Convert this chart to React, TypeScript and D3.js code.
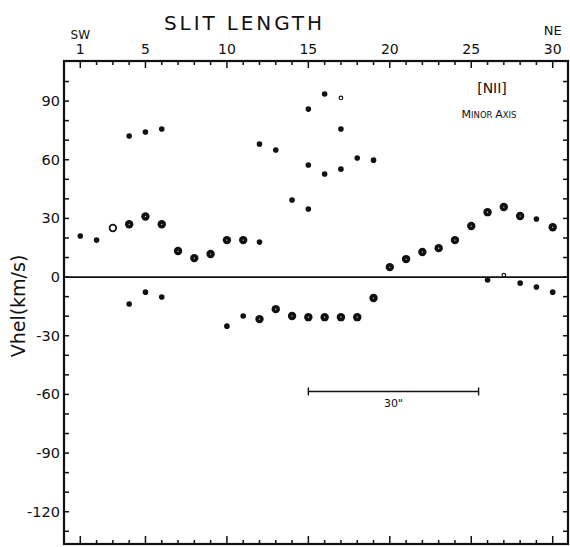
import React from "react";
import * as d3 from "d3";

// slit positions (1..30) and heliocentric velocities (km/s)
const strongX = [4, 5, 6, 7, 8, 9, 10, 11, 12, 13, 14, 15, 16, 17, 18, 19, 20, 21, 22, 23, 24, 25, 26, 27, 28, 30];
const strongV = [27, 31, 27, 13.3, 9.7, 11.8, 18.9, 18.9, -21.5, -16.4, -19.9, -20.5, -20.5, -20.5, -20.5, -10.7, 5.1, 9.2, 12.8, 14.8, 18.9, 26.1, 33.2, 35.8, 31.2, 25.5];

const weakX = [1, 2, 4, 4, 5, 5, 6, 6, 10, 11, 12, 12, 13, 14, 15, 15, 15, 16, 16, 17, 17, 18, 19, 26, 28, 29, 29, 30];
const weakV = [21, 18.9, 72.1, -13.8, 74.2, -7.7, 75.7, -10.2, -25.1, -19.9, 17.9, 68, 65, 39.4, 85.9, 57.3, 34.8, 93.6, 52.7, 75.7, 55.2, 60.9, 59.8, -1.5, -3.1, -5.1, 29.7, -7.7];

const openX = [3];
const openV = [25.1];
const faintX = [27, 17];
const faintV = [1, 91.6];

const topTickLabels = [1, 5, 10, 15, 20, 25, 30];
const yTickLabels = [90, 60, 30, 0, -30, -60, -90, -120];
const scaleBarX = [15, 25.45];
const scaleBarV = -58.5;
const scaleBarLabel = '30"';

const FONT = "'DejaVu Sans', 'Liberation Sans', sans-serif";

export default function App() {
  const W = 570, H = 547;
  const L = 64, R = 568, T = 61, B = 544;
  const x = d3.scaleLinear().domain([0, 31]).range([L, R + 1]);
  const y = d3.scaleLinear().domain([-136.5, 110.5]).range([B, T]);

  const xMinor = d3.range(1, 31);
  const yMinor = d3.range(-130, 101, 10);
  const isMajorX = (v: number) => v === 1 || v % 5 === 0;

  return (
    <svg width={W} height={H} style={{ position: "absolute", left: 0, top: 0, background: "#fff" }}>
      <rect x={0} y={0} width={W} height={H} fill="#fff" />
      {/* title */}
      <text x={243} y={30} fontFamily={FONT} fontSize={20} textAnchor="middle" textLength={158} lengthAdjust="spacing" fill="#111">
        SLIT  LENGTH
      </text>
      <text x={x(1)} y={39} fontFamily={FONT} fontSize={12} textAnchor="middle" fill="#111">SW</text>
      <text x={x(30)} y={35} fontFamily={FONT} fontSize={13} textAnchor="middle" fill="#111">NE</text>
      {topTickLabels.map((t) => (
        <text key={"tl" + t} x={x(t)} y={54} fontFamily={FONT} fontSize={14} textAnchor="middle" fill="#111">
          {t}
        </text>
      ))}

      {/* frame */}
      <rect x={L} y={T} width={R - L} height={B - T} fill="none" stroke="#111" strokeWidth={2.2} />

      {/* top & bottom ticks */}
      {xMinor.map((t) => (
        <g key={"xt" + t} stroke="#111" strokeWidth={1.5}>
          <line x1={x(t)} x2={x(t)} y1={T} y2={T + (isMajorX(t) ? 7 : 4)} />
          <line x1={x(t)} x2={x(t)} y1={B} y2={B - (isMajorX(t) ? 8 : 4)} />
        </g>
      ))}
      {/* left & right ticks */}
      {yMinor.map((v) => (
        <g key={"yt" + v} stroke="#111" strokeWidth={1.5}>
          <line x1={L} x2={L + 5} y1={y(v)} y2={y(v)} />
          <line x1={R} x2={R - 5} y1={y(v)} y2={y(v)} />
        </g>
      ))}
      {yTickLabels.map((v) => (
        <text key={"yl" + v} x={60} y={y(v) + 5} fontFamily={FONT} fontSize={14.5} textAnchor="end" fill="#111">
          {v < 0 ? "-" + Math.abs(v) : String(v)}
        </text>
      ))}

      {/* y axis title */}
      <text
        transform={`translate(25, 306) rotate(-90)`}
        fontFamily={FONT}
        fontSize={19}
        textAnchor="middle"
        fill="#111"
      >
        Vhel(km/s)
      </text>

      {/* zero line */}
      <line x1={L} x2={R} y1={y(0)} y2={y(0)} stroke="#111" strokeWidth={1.6} />

      {/* labels */}
      <text x={492} y={93} fontFamily={FONT} fontSize={14} textAnchor="middle" fill="#111">[NII]</text>
      <text x={489} y={118} fontFamily={FONT} textAnchor="middle" fill="#111">
        <tspan fontSize={11}>M</tspan>
        <tspan fontSize={8.5}>INOR </tspan>
        <tspan fontSize={11}>A</tspan>
        <tspan fontSize={8.5}>XIS</tspan>
      </text>

      {/* scale bar */}
      <g stroke="#111" strokeWidth={1.4}>
        <line x1={x(scaleBarX[0])} x2={x(scaleBarX[1])} y1={y(scaleBarV)} y2={y(scaleBarV)} />
        <line x1={x(scaleBarX[0])} x2={x(scaleBarX[0])} y1={y(scaleBarV) - 4} y2={y(scaleBarV) + 4} />
        <line x1={x(scaleBarX[1])} x2={x(scaleBarX[1])} y1={y(scaleBarV) - 4} y2={y(scaleBarV) + 4} />
      </g>
      <text x={x((scaleBarX[0] + scaleBarX[1]) / 2)} y={y(scaleBarV) + 16} fontFamily={FONT} fontSize={11} textAnchor="middle" fill="#111">
        {scaleBarLabel}
      </text>

      {/* data */}
      {strongX.map((xv, i) => (
        <g key={"s" + i}>
          <circle cx={x(xv)} cy={y(strongV[i])} r={4.2} fill="#111" />
          <circle cx={x(xv)} cy={y(strongV[i])} r={0.6} fill="#fff" />
        </g>
      ))}
      {weakX.map((xv, i) => (
        <circle key={"w" + i} cx={x(xv)} cy={y(weakV[i])} r={2.8} fill="#111" />
      ))}
      {openX.map((xv, i) => (
        <circle key={"o" + i} cx={x(xv)} cy={y(openV[i])} r={3.3} fill="#fff" stroke="#111" strokeWidth={1.7} />
      ))}
      {faintX.map((xv, i) => (
        <circle key={"f" + i} cx={x(xv)} cy={y(faintV[i])} r={1.8} fill="#fff" stroke="#111" strokeWidth={1.2} />
      ))}
    </svg>
  );
}
